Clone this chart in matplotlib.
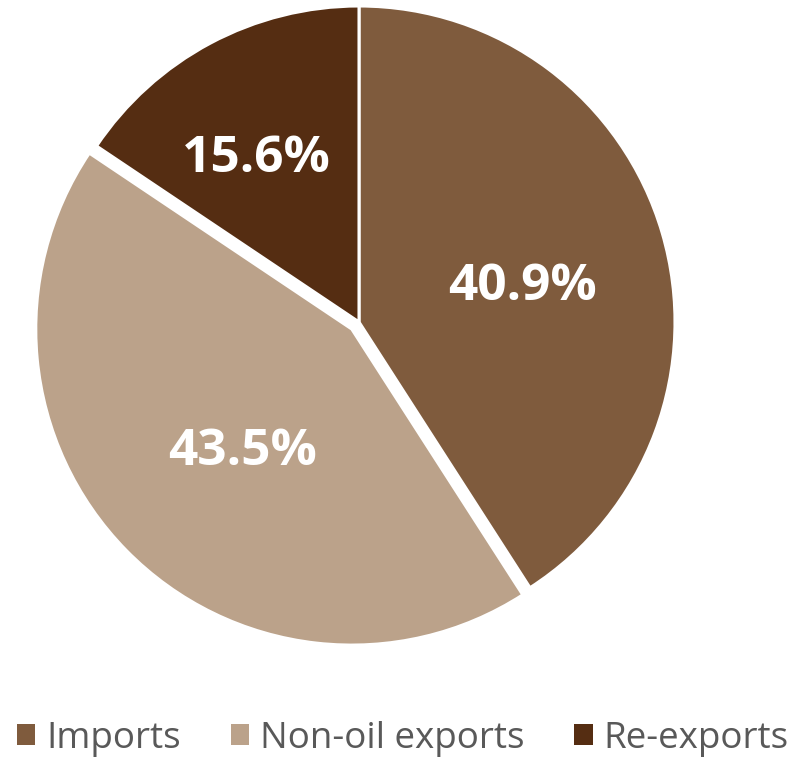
import numpy as np
import matplotlib
matplotlib.use("Agg")
import matplotlib.pyplot as plt
from matplotlib.patches import Patch

categories = ["Imports", "Non-oil exports", "Re-exports"]
shares = [40.9, 43.5, 15.6]
colors = ["#7F5B3D", "#BBA28A", "#552D12"]
explode_frac = [0, 0.032, 0]
label_dist = [0.53, 0.52, 0.61]
label_turn = [-4.4, 3.7, 4.0]

W, H = 791, 760
fig = plt.figure(figsize=(W / 100, H / 100), dpi=100)
ax = fig.add_axes([0, 0, 1, 1])

cx, cy, R = 359, H - 322, 316
wedges, texts, autotexts = ax.pie(
    shares, colors=colors, explode=[e * R for e in explode_frac],
    startangle=90, counterclock=False,
    center=(cx, cy), radius=R, autopct="%.1f%%", pctdistance=0.57,
    wedgeprops=dict(edgecolor="white", linewidth=2.2),
    textprops=dict(color="white", fontsize=37, fontweight="bold", family="Open Sans"),
    frame=True,
)
for w, t, d, turn in zip(wedges, autotexts, label_dist, label_turn):
    ang = np.deg2rad((w.theta1 + w.theta2) / 2 + turn)
    wx, wy = w.center
    t.set_position((wx + d * R * np.cos(ang), wy + d * R * np.sin(ang)))

ax.set_xlim(0, W)
ax.set_ylim(0, H)
ax.axis("off")

handles = [Patch(facecolor=c, edgecolor="none") for c in colors]
leg = fig.legend(handles, categories, loc="center", bbox_to_anchor=(403 / W, 1 - 739 / H),
                 ncol=3, frameon=False, handlelength=0.5, handleheight=0.5,
                 handletextpad=0.3, columnspacing=1.35,
                 prop=dict(family="Open Sans", size=26.5))
for t in leg.get_texts():
    t.set_color("#595959")

fig.savefig("out.png", dpi=100)
